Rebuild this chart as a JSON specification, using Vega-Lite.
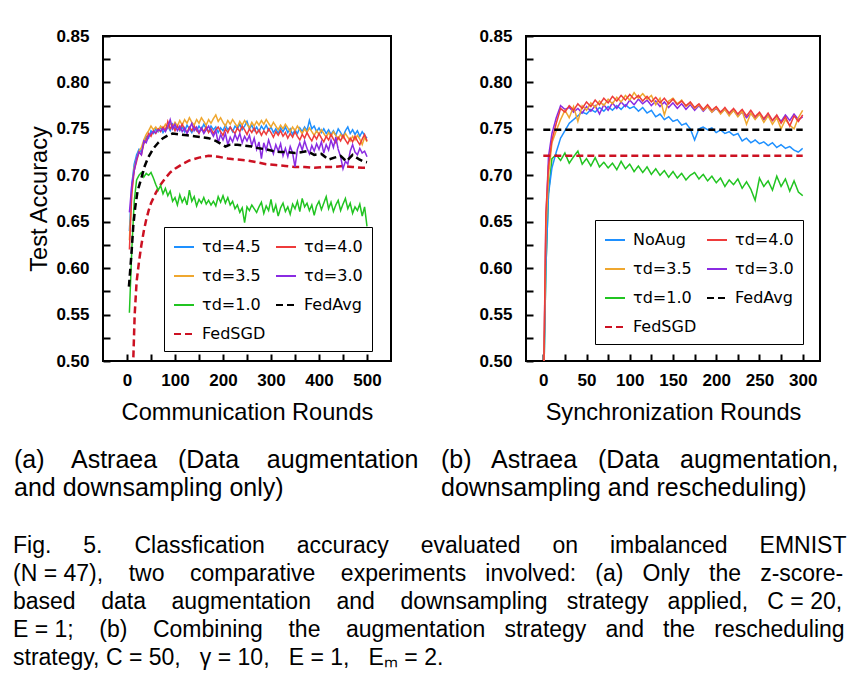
{
"$schema": "https://vega.github.io/schema/vega-lite/v6.json",
"background": "white",
"padding": {"left": 13, "top": 26, "right": 5, "bottom": 5},
"config": {
 "font": "Liberation Sans",
 "view": {"stroke": "black", "strokeWidth": 2},
 "axis": {"grid": false, "domain": false, "labelFont": "Liberation Sans", "labelFontWeight": "bold", "labelFontSize": 17, "labelColor": "black", "tickColor": "black", "tickWidth": 2, "titleFont": "Liberation Sans", "titleFontWeight": "normal", "titleFontSize": 23.6, "titleColor": "black"},
 "legend": {"title": null, "orient": "none", "columns": 2, "symbolType": "stroke", "symbolSize": 400, "symbolStrokeWidth": 2, "labelFont": "DejaVu Sans", "labelFontSize": 16, "labelColor": "black", "labelLimit": 300, "strokeColor": "black", "fillColor": "white", "padding": 9, "rowPadding": 10, "columnPadding": 6, "labelOffset": 7},
 "title": {"font": "Liberation Sans", "fontWeight": "normal", "color": "black", "lineHeight": 28}
},
"title": {"text": ["Fig.\u00a0\u00a0\u00a0\u00a0 5.\u00a0\u00a0\u00a0\u00a0 Classfication\u00a0\u00a0\u00a0\u00a0 accuracy\u00a0\u00a0\u00a0\u00a0 evaluated\u00a0\u00a0\u00a0\u00a0 on\u00a0\u00a0\u00a0\u00a0 imbalanced\u00a0\u00a0\u00a0\u00a0 EMNIST", "(N = 47),\u00a0\u00a0\u00a0 two\u00a0\u00a0\u00a0 comparative\u00a0\u00a0\u00a0 experiments\u00a0\u00a0 involved:\u00a0\u00a0 (a)\u00a0\u00a0 Only\u00a0\u00a0 the\u00a0\u00a0 z-score-", "based\u00a0\u00a0\u00a0 data\u00a0\u00a0\u00a0 augmentation\u00a0\u00a0\u00a0 and\u00a0\u00a0\u00a0 downsampling\u00a0\u00a0 strategy\u00a0\u00a0 applied,\u00a0\u00a0 C = 20,", "E = 1;\u00a0\u00a0\u00a0 (b)\u00a0\u00a0\u00a0 Combining\u00a0\u00a0\u00a0 the\u00a0\u00a0\u00a0 augmentation\u00a0\u00a0 strategy\u00a0\u00a0 and\u00a0\u00a0 the\u00a0\u00a0 rescheduling", "strategy, C = 50,\u00a0\u00a0 γ = 10,\u00a0\u00a0 E = 1,\u00a0\u00a0 Eₘ = 2."], "orient": "bottom", "anchor": "start", "offset": 33, "fontSize": 23},
"datasets": {
"a": [
{"s":"FedSGD","r":5,"v":0.35},{"s":"FedSGD","r":10,"v":0.455},{"s":"FedSGD","r":13,"v":0.50},{"s":"FedSGD","r":16,"v":0.55},{"s":"FedSGD","r":20,"v":0.585},{"s":"FedSGD","r":25,"v":0.607},{"s":"FedSGD","r":30,"v":0.625},{"s":"FedSGD","r":35,"v":0.640},{"s":"FedSGD","r":40,"v":0.652},{"s":"FedSGD","r":45,"v":0.662},{"s":"FedSGD","r":50,"v":0.670},{"s":"FedSGD","r":60,"v":0.681},{"s":"FedSGD","r":70,"v":0.690},{"s":"FedSGD","r":80,"v":0.697},{"s":"FedSGD","r":90,"v":0.703},{"s":"FedSGD","r":100,"v":0.707},{"s":"FedSGD","r":115,"v":0.712},{"s":"FedSGD","r":130,"v":0.716},{"s":"FedSGD","r":150,"v":0.719},{"s":"FedSGD","r":170,"v":0.721},{"s":"FedSGD","r":190,"v":0.720},{"s":"FedSGD","r":210,"v":0.718},{"s":"FedSGD","r":230,"v":0.717},{"s":"FedSGD","r":250,"v":0.716},{"s":"FedSGD","r":270,"v":0.714},{"s":"FedSGD","r":290,"v":0.712},{"s":"FedSGD","r":310,"v":0.711},{"s":"FedSGD","r":330,"v":0.710},{"s":"FedSGD","r":350,"v":0.709},{"s":"FedSGD","r":370,"v":0.709},{"s":"FedSGD","r":390,"v":0.708},{"s":"FedSGD","r":410,"v":0.709},{"s":"FedSGD","r":430,"v":0.709},{"s":"FedSGD","r":450,"v":0.710},{"s":"FedSGD","r":470,"v":0.709},{"s":"FedSGD","r":490,"v":0.708},{"s":"FedSGD","r":500,"v":0.708},
{"s":"τd=1.0","r":5,"v":0.552},{"s":"τd=1.0","r":10,"v":0.620},{"s":"τd=1.0","r":15,"v":0.672},{"s":"τd=1.0","r":20,"v":0.695},{"s":"τd=1.0","r":25,"v":0.700},{"s":"τd=1.0","r":30,"v":0.703},{"s":"τd=1.0","r":35,"v":0.698},{"s":"τd=1.0","r":40,"v":0.702},{"s":"τd=1.0","r":45,"v":0.700},{"s":"τd=1.0","r":50,"v":0.703},
{"s":"τd=1.0","r":55,"v":0.697},{"s":"τd=1.0","r":60,"v":0.690},{"s":"τd=1.0","r":65,"v":0.684},{"s":"τd=1.0","r":70,"v":0.689},{"s":"τd=1.0","r":75,"v":0.680},{"s":"τd=1.0","r":80,"v":0.686},{"s":"τd=1.0","r":85,"v":0.678},{"s":"τd=1.0","r":90,"v":0.683},{"s":"τd=1.0","r":95,"v":0.672},{"s":"τd=1.0","r":100,"v":0.676},
{"s":"τd=1.0","r":105,"v":0.668},{"s":"τd=1.0","r":110,"v":0.679},{"s":"τd=1.0","r":115,"v":0.671},{"s":"τd=1.0","r":120,"v":0.676},{"s":"τd=1.0","r":125,"v":0.668},{"s":"τd=1.0","r":130,"v":0.684},{"s":"τd=1.0","r":135,"v":0.672},{"s":"τd=1.0","r":140,"v":0.677},{"s":"τd=1.0","r":145,"v":0.667},{"s":"τd=1.0","r":150,"v":0.674},
{"s":"τd=1.0","r":155,"v":0.670},{"s":"τd=1.0","r":160,"v":0.676},{"s":"τd=1.0","r":165,"v":0.669},{"s":"τd=1.0","r":170,"v":0.673},{"s":"τd=1.0","r":175,"v":0.668},{"s":"τd=1.0","r":180,"v":0.672},{"s":"τd=1.0","r":185,"v":0.667},{"s":"τd=1.0","r":190,"v":0.677},{"s":"τd=1.0","r":195,"v":0.671},{"s":"τd=1.0","r":200,"v":0.678},
{"s":"τd=1.0","r":205,"v":0.670},{"s":"τd=1.0","r":210,"v":0.676},{"s":"τd=1.0","r":215,"v":0.668},{"s":"τd=1.0","r":220,"v":0.672},{"s":"τd=1.0","r":225,"v":0.664},{"s":"τd=1.0","r":230,"v":0.668},{"s":"τd=1.0","r":235,"v":0.660},{"s":"τd=1.0","r":240,"v":0.665},{"s":"τd=1.0","r":245,"v":0.649},{"s":"τd=1.0","r":250,"v":0.666},
{"s":"τd=1.0","r":255,"v":0.662},{"s":"τd=1.0","r":260,"v":0.668},{"s":"τd=1.0","r":265,"v":0.664},{"s":"τd=1.0","r":270,"v":0.660},{"s":"τd=1.0","r":275,"v":0.666},{"s":"τd=1.0","r":280,"v":0.671},{"s":"τd=1.0","r":285,"v":0.659},{"s":"τd=1.0","r":290,"v":0.667},{"s":"τd=1.0","r":295,"v":0.662},{"s":"τd=1.0","r":300,"v":0.674},
{"s":"τd=1.0","r":305,"v":0.660},{"s":"τd=1.0","r":310,"v":0.668},{"s":"τd=1.0","r":315,"v":0.656},{"s":"τd=1.0","r":320,"v":0.665},{"s":"τd=1.0","r":325,"v":0.670},{"s":"τd=1.0","r":330,"v":0.661},{"s":"τd=1.0","r":335,"v":0.666},{"s":"τd=1.0","r":340,"v":0.658},{"s":"τd=1.0","r":345,"v":0.669},{"s":"τd=1.0","r":350,"v":0.664},
{"s":"τd=1.0","r":355,"v":0.672},{"s":"τd=1.0","r":360,"v":0.661},{"s":"τd=1.0","r":365,"v":0.675},{"s":"τd=1.0","r":370,"v":0.666},{"s":"τd=1.0","r":375,"v":0.670},{"s":"τd=1.0","r":380,"v":0.662},{"s":"τd=1.0","r":385,"v":0.668},{"s":"τd=1.0","r":390,"v":0.657},{"s":"τd=1.0","r":395,"v":0.667},{"s":"τd=1.0","r":400,"v":0.672},
{"s":"τd=1.0","r":405,"v":0.663},{"s":"τd=1.0","r":410,"v":0.670},{"s":"τd=1.0","r":415,"v":0.677},{"s":"τd=1.0","r":420,"v":0.664},{"s":"τd=1.0","r":425,"v":0.671},{"s":"τd=1.0","r":430,"v":0.661},{"s":"τd=1.0","r":435,"v":0.668},{"s":"τd=1.0","r":440,"v":0.673},{"s":"τd=1.0","r":445,"v":0.662},{"s":"τd=1.0","r":450,"v":0.669},
{"s":"τd=1.0","r":455,"v":0.675},{"s":"τd=1.0","r":460,"v":0.664},{"s":"τd=1.0","r":465,"v":0.670},{"s":"τd=1.0","r":470,"v":0.659},{"s":"τd=1.0","r":475,"v":0.666},{"s":"τd=1.0","r":480,"v":0.662},{"s":"τd=1.0","r":485,"v":0.669},{"s":"τd=1.0","r":490,"v":0.656},{"s":"τd=1.0","r":495,"v":0.666},{"s":"τd=1.0","r":500,"v":0.645},
{"s":"τd=4.5","r":5,"v":0.640},{"s":"τd=4.5","r":10,"v":0.690},{"s":"τd=4.5","r":15,"v":0.712},{"s":"τd=4.5","r":20,"v":0.722},{"s":"τd=4.5","r":25,"v":0.728},{"s":"τd=4.5","r":30,"v":0.725},{"s":"τd=4.5","r":35,"v":0.735},{"s":"τd=4.5","r":40,"v":0.742},{"s":"τd=4.5","r":45,"v":0.740},{"s":"τd=4.5","r":50,"v":0.748},
{"s":"τd=4.5","r":55,"v":0.745},{"s":"τd=4.5","r":60,"v":0.750},{"s":"τd=4.5","r":65,"v":0.747},{"s":"τd=4.5","r":70,"v":0.752},{"s":"τd=4.5","r":75,"v":0.746},{"s":"τd=4.5","r":80,"v":0.750},{"s":"τd=4.5","r":85,"v":0.753},{"s":"τd=4.5","r":90,"v":0.748},{"s":"τd=4.5","r":95,"v":0.755},{"s":"τd=4.5","r":100,"v":0.750},
{"s":"τd=4.5","r":105,"v":0.753},{"s":"τd=4.5","r":110,"v":0.748},{"s":"τd=4.5","r":115,"v":0.752},{"s":"τd=4.5","r":120,"v":0.747},{"s":"τd=4.5","r":125,"v":0.754},{"s":"τd=4.5","r":130,"v":0.750},{"s":"τd=4.5","r":135,"v":0.746},{"s":"τd=4.5","r":140,"v":0.752},{"s":"τd=4.5","r":145,"v":0.748},{"s":"τd=4.5","r":150,"v":0.753},
{"s":"τd=4.5","r":155,"v":0.749},{"s":"τd=4.5","r":160,"v":0.755},{"s":"τd=4.5","r":165,"v":0.750},{"s":"τd=4.5","r":170,"v":0.747},{"s":"τd=4.5","r":175,"v":0.753},{"s":"τd=4.5","r":180,"v":0.749},{"s":"τd=4.5","r":185,"v":0.752},{"s":"τd=4.5","r":190,"v":0.746},{"s":"τd=4.5","r":195,"v":0.751},{"s":"τd=4.5","r":200,"v":0.748},
{"s":"τd=4.5","r":205,"v":0.754},{"s":"τd=4.5","r":210,"v":0.749},{"s":"τd=4.5","r":215,"v":0.752},{"s":"τd=4.5","r":220,"v":0.747},{"s":"τd=4.5","r":225,"v":0.753},{"s":"τd=4.5","r":230,"v":0.750},{"s":"τd=4.5","r":235,"v":0.755},{"s":"τd=4.5","r":240,"v":0.749},{"s":"τd=4.5","r":245,"v":0.753},{"s":"τd=4.5","r":250,"v":0.758},
{"s":"τd=4.5","r":255,"v":0.750},{"s":"τd=4.5","r":260,"v":0.754},{"s":"τd=4.5","r":265,"v":0.748},{"s":"τd=4.5","r":270,"v":0.752},{"s":"τd=4.5","r":275,"v":0.747},{"s":"τd=4.5","r":280,"v":0.753},{"s":"τd=4.5","r":285,"v":0.749},{"s":"τd=4.5","r":290,"v":0.754},{"s":"τd=4.5","r":295,"v":0.748},{"s":"τd=4.5","r":300,"v":0.752},
{"s":"τd=4.5","r":305,"v":0.746},{"s":"τd=4.5","r":310,"v":0.750},{"s":"τd=4.5","r":315,"v":0.745},{"s":"τd=4.5","r":320,"v":0.751},{"s":"τd=4.5","r":325,"v":0.747},{"s":"τd=4.5","r":330,"v":0.752},{"s":"τd=4.5","r":335,"v":0.746},{"s":"τd=4.5","r":340,"v":0.750},{"s":"τd=4.5","r":345,"v":0.744},{"s":"τd=4.5","r":350,"v":0.749},
{"s":"τd=4.5","r":355,"v":0.745},{"s":"τd=4.5","r":360,"v":0.751},{"s":"τd=4.5","r":365,"v":0.747},{"s":"τd=4.5","r":370,"v":0.752},{"s":"τd=4.5","r":375,"v":0.748},{"s":"τd=4.5","r":380,"v":0.759},{"s":"τd=4.5","r":385,"v":0.750},{"s":"τd=4.5","r":390,"v":0.753},{"s":"τd=4.5","r":395,"v":0.747},{"s":"τd=4.5","r":400,"v":0.751},
{"s":"τd=4.5","r":405,"v":0.746},{"s":"τd=4.5","r":410,"v":0.750},{"s":"τd=4.5","r":415,"v":0.745},{"s":"τd=4.5","r":420,"v":0.749},{"s":"τd=4.5","r":425,"v":0.744},{"s":"τd=4.5","r":430,"v":0.748},{"s":"τd=4.5","r":435,"v":0.743},{"s":"τd=4.5","r":440,"v":0.750},{"s":"τd=4.5","r":445,"v":0.746},{"s":"τd=4.5","r":450,"v":0.741},
{"s":"τd=4.5","r":455,"v":0.748},{"s":"τd=4.5","r":460,"v":0.752},{"s":"τd=4.5","r":465,"v":0.745},{"s":"τd=4.5","r":470,"v":0.749},{"s":"τd=4.5","r":475,"v":0.744},{"s":"τd=4.5","r":480,"v":0.748},{"s":"τd=4.5","r":485,"v":0.742},{"s":"τd=4.5","r":490,"v":0.747},{"s":"τd=4.5","r":495,"v":0.743},{"s":"τd=4.5","r":500,"v":0.740},
{"s":"τd=3.5","r":5,"v":0.630},{"s":"τd=3.5","r":10,"v":0.685},{"s":"τd=3.5","r":15,"v":0.708},{"s":"τd=3.5","r":20,"v":0.718},{"s":"τd=3.5","r":25,"v":0.726},{"s":"τd=3.5","r":30,"v":0.730},{"s":"τd=3.5","r":35,"v":0.738},{"s":"τd=3.5","r":40,"v":0.744},{"s":"τd=3.5","r":45,"v":0.748},{"s":"τd=3.5","r":50,"v":0.753},
{"s":"τd=3.5","r":55,"v":0.749},{"s":"τd=3.5","r":60,"v":0.752},{"s":"τd=3.5","r":65,"v":0.748},{"s":"τd=3.5","r":70,"v":0.753},{"s":"τd=3.5","r":75,"v":0.750},{"s":"τd=3.5","r":80,"v":0.755},{"s":"τd=3.5","r":85,"v":0.751},{"s":"τd=3.5","r":90,"v":0.756},{"s":"τd=3.5","r":95,"v":0.752},{"s":"τd=3.5","r":100,"v":0.757},
{"s":"τd=3.5","r":105,"v":0.753},{"s":"τd=3.5","r":110,"v":0.759},{"s":"τd=3.5","r":115,"v":0.754},{"s":"τd=3.5","r":120,"v":0.760},{"s":"τd=3.5","r":125,"v":0.756},{"s":"τd=3.5","r":130,"v":0.762},{"s":"τd=3.5","r":135,"v":0.757},{"s":"τd=3.5","r":140,"v":0.754},{"s":"τd=3.5","r":145,"v":0.760},{"s":"τd=3.5","r":150,"v":0.756},
{"s":"τd=3.5","r":155,"v":0.762},{"s":"τd=3.5","r":160,"v":0.758},{"s":"τd=3.5","r":165,"v":0.754},{"s":"τd=3.5","r":170,"v":0.760},{"s":"τd=3.5","r":175,"v":0.756},{"s":"τd=3.5","r":180,"v":0.761},{"s":"τd=3.5","r":185,"v":0.765},{"s":"τd=3.5","r":190,"v":0.758},{"s":"τd=3.5","r":195,"v":0.762},{"s":"τd=3.5","r":200,"v":0.757},
{"s":"τd=3.5","r":205,"v":0.753},{"s":"τd=3.5","r":210,"v":0.759},{"s":"τd=3.5","r":215,"v":0.755},{"s":"τd=3.5","r":220,"v":0.760},{"s":"τd=3.5","r":225,"v":0.756},{"s":"τd=3.5","r":230,"v":0.752},{"s":"τd=3.5","r":235,"v":0.758},{"s":"τd=3.5","r":240,"v":0.754},{"s":"τd=3.5","r":245,"v":0.759},{"s":"τd=3.5","r":250,"v":0.755},
{"s":"τd=3.5","r":255,"v":0.751},{"s":"τd=3.5","r":260,"v":0.757},{"s":"τd=3.5","r":265,"v":0.753},{"s":"τd=3.5","r":270,"v":0.758},{"s":"τd=3.5","r":275,"v":0.754},{"s":"τd=3.5","r":280,"v":0.759},{"s":"τd=3.5","r":285,"v":0.755},{"s":"τd=3.5","r":290,"v":0.760},{"s":"τd=3.5","r":295,"v":0.756},{"s":"τd=3.5","r":300,"v":0.752},
{"s":"τd=3.5","r":305,"v":0.757},{"s":"τd=3.5","r":310,"v":0.753},{"s":"τd=3.5","r":315,"v":0.749},{"s":"τd=3.5","r":320,"v":0.754},{"s":"τd=3.5","r":325,"v":0.750},{"s":"τd=3.5","r":330,"v":0.755},{"s":"τd=3.5","r":335,"v":0.751},{"s":"τd=3.5","r":340,"v":0.747},{"s":"τd=3.5","r":345,"v":0.752},{"s":"τd=3.5","r":350,"v":0.748},
{"s":"τd=3.5","r":355,"v":0.753},{"s":"τd=3.5","r":360,"v":0.749},{"s":"τd=3.5","r":365,"v":0.745},{"s":"τd=3.5","r":370,"v":0.750},{"s":"τd=3.5","r":375,"v":0.746},{"s":"τd=3.5","r":380,"v":0.751},{"s":"τd=3.5","r":385,"v":0.747},{"s":"τd=3.5","r":390,"v":0.743},{"s":"τd=3.5","r":395,"v":0.748},{"s":"τd=3.5","r":400,"v":0.744},
{"s":"τd=3.5","r":405,"v":0.749},{"s":"τd=3.5","r":410,"v":0.745},{"s":"τd=3.5","r":415,"v":0.741},{"s":"τd=3.5","r":420,"v":0.746},{"s":"τd=3.5","r":425,"v":0.742},{"s":"τd=3.5","r":430,"v":0.747},{"s":"τd=3.5","r":435,"v":0.743},{"s":"τd=3.5","r":440,"v":0.739},{"s":"τd=3.5","r":445,"v":0.744},{"s":"τd=3.5","r":450,"v":0.740},
{"s":"τd=3.5","r":455,"v":0.745},{"s":"τd=3.5","r":460,"v":0.741},{"s":"τd=3.5","r":465,"v":0.737},{"s":"τd=3.5","r":470,"v":0.742},{"s":"τd=3.5","r":475,"v":0.738},{"s":"τd=3.5","r":480,"v":0.743},{"s":"τd=3.5","r":485,"v":0.739},{"s":"τd=3.5","r":490,"v":0.733},{"s":"τd=3.5","r":495,"v":0.741},{"s":"τd=3.5","r":500,"v":0.736},
{"s":"τd=4.0","r":5,"v":0.620},{"s":"τd=4.0","r":10,"v":0.680},{"s":"τd=4.0","r":15,"v":0.705},{"s":"τd=4.0","r":20,"v":0.715},{"s":"τd=4.0","r":25,"v":0.725},{"s":"τd=4.0","r":30,"v":0.722},{"s":"τd=4.0","r":35,"v":0.734},{"s":"τd=4.0","r":40,"v":0.738},{"s":"τd=4.0","r":45,"v":0.745},{"s":"τd=4.0","r":50,"v":0.742},
{"s":"τd=4.0","r":55,"v":0.748},{"s":"τd=4.0","r":60,"v":0.745},{"s":"τd=4.0","r":65,"v":0.750},{"s":"τd=4.0","r":70,"v":0.747},{"s":"τd=4.0","r":75,"v":0.752},{"s":"τd=4.0","r":80,"v":0.748},{"s":"τd=4.0","r":85,"v":0.758},{"s":"τd=4.0","r":90,"v":0.750},{"s":"τd=4.0","r":95,"v":0.754},{"s":"τd=4.0","r":100,"v":0.748},
{"s":"τd=4.0","r":105,"v":0.753},{"s":"τd=4.0","r":110,"v":0.749},{"s":"τd=4.0","r":115,"v":0.755},{"s":"τd=4.0","r":120,"v":0.750},{"s":"τd=4.0","r":125,"v":0.746},{"s":"τd=4.0","r":130,"v":0.752},{"s":"τd=4.0","r":135,"v":0.748},{"s":"τd=4.0","r":140,"v":0.753},{"s":"τd=4.0","r":145,"v":0.749},{"s":"τd=4.0","r":150,"v":0.745},
{"s":"τd=4.0","r":155,"v":0.751},{"s":"τd=4.0","r":160,"v":0.747},{"s":"τd=4.0","r":165,"v":0.752},{"s":"τd=4.0","r":170,"v":0.746},{"s":"τd=4.0","r":175,"v":0.750},{"s":"τd=4.0","r":180,"v":0.745},{"s":"τd=4.0","r":185,"v":0.749},{"s":"τd=4.0","r":190,"v":0.752},{"s":"τd=4.0","r":195,"v":0.747},{"s":"τd=4.0","r":200,"v":0.743},
{"s":"τd=4.0","r":205,"v":0.750},{"s":"τd=4.0","r":210,"v":0.746},{"s":"τd=4.0","r":215,"v":0.752},{"s":"τd=4.0","r":220,"v":0.748},{"s":"τd=4.0","r":225,"v":0.745},{"s":"τd=4.0","r":230,"v":0.751},{"s":"τd=4.0","r":235,"v":0.747},{"s":"τd=4.0","r":240,"v":0.753},{"s":"τd=4.0","r":245,"v":0.749},{"s":"τd=4.0","r":250,"v":0.744},
{"s":"τd=4.0","r":255,"v":0.750},{"s":"τd=4.0","r":260,"v":0.746},{"s":"τd=4.0","r":265,"v":0.751},{"s":"τd=4.0","r":270,"v":0.745},{"s":"τd=4.0","r":275,"v":0.749},{"s":"τd=4.0","r":280,"v":0.743},{"s":"τd=4.0","r":285,"v":0.748},{"s":"τd=4.0","r":290,"v":0.744},{"s":"τd=4.0","r":295,"v":0.750},{"s":"τd=4.0","r":300,"v":0.746},
{"s":"τd=4.0","r":305,"v":0.741},{"s":"τd=4.0","r":310,"v":0.747},{"s":"τd=4.0","r":315,"v":0.743},{"s":"τd=4.0","r":320,"v":0.748},{"s":"τd=4.0","r":325,"v":0.742},{"s":"τd=4.0","r":330,"v":0.746},{"s":"τd=4.0","r":335,"v":0.740},{"s":"τd=4.0","r":340,"v":0.745},{"s":"τd=4.0","r":345,"v":0.741},{"s":"τd=4.0","r":350,"v":0.747},
{"s":"τd=4.0","r":355,"v":0.742},{"s":"τd=4.0","r":360,"v":0.738},{"s":"τd=4.0","r":365,"v":0.744},{"s":"τd=4.0","r":370,"v":0.740},{"s":"τd=4.0","r":375,"v":0.746},{"s":"τd=4.0","r":380,"v":0.741},{"s":"τd=4.0","r":385,"v":0.737},{"s":"τd=4.0","r":390,"v":0.743},{"s":"τd=4.0","r":395,"v":0.739},{"s":"τd=4.0","r":400,"v":0.745},
{"s":"τd=4.0","r":405,"v":0.740},{"s":"τd=4.0","r":410,"v":0.736},{"s":"τd=4.0","r":415,"v":0.742},{"s":"τd=4.0","r":420,"v":0.738},{"s":"τd=4.0","r":425,"v":0.744},{"s":"τd=4.0","r":430,"v":0.739},{"s":"τd=4.0","r":435,"v":0.735},{"s":"τd=4.0","r":440,"v":0.741},{"s":"τd=4.0","r":445,"v":0.737},{"s":"τd=4.0","r":450,"v":0.743},
{"s":"τd=4.0","r":455,"v":0.738},{"s":"τd=4.0","r":460,"v":0.734},{"s":"τd=4.0","r":465,"v":0.740},{"s":"τd=4.0","r":470,"v":0.736},{"s":"τd=4.0","r":475,"v":0.742},{"s":"τd=4.0","r":480,"v":0.737},{"s":"τd=4.0","r":485,"v":0.733},{"s":"τd=4.0","r":490,"v":0.739},{"s":"τd=4.0","r":495,"v":0.744},{"s":"τd=4.0","r":500,"v":0.737},
{"s":"τd=3.0","r":5,"v":0.660},{"s":"τd=3.0","r":10,"v":0.690},{"s":"τd=3.0","r":15,"v":0.705},{"s":"τd=3.0","r":20,"v":0.718},{"s":"τd=3.0","r":25,"v":0.725},{"s":"τd=3.0","r":30,"v":0.722},{"s":"τd=3.0","r":35,"v":0.737},{"s":"τd=3.0","r":40,"v":0.735},{"s":"τd=3.0","r":45,"v":0.742},{"s":"τd=3.0","r":50,"v":0.745},
{"s":"τd=3.0","r":55,"v":0.747},{"s":"τd=3.0","r":60,"v":0.746},{"s":"τd=3.0","r":65,"v":0.749},{"s":"τd=3.0","r":70,"v":0.748},{"s":"τd=3.0","r":75,"v":0.750},{"s":"τd=3.0","r":80,"v":0.747},{"s":"τd=3.0","r":85,"v":0.752},{"s":"τd=3.0","r":90,"v":0.760},{"s":"τd=3.0","r":95,"v":0.750},{"s":"τd=3.0","r":100,"v":0.755},
{"s":"τd=3.0","r":105,"v":0.748},{"s":"τd=3.0","r":110,"v":0.753},{"s":"τd=3.0","r":115,"v":0.747},{"s":"τd=3.0","r":120,"v":0.751},{"s":"τd=3.0","r":125,"v":0.745},{"s":"τd=3.0","r":130,"v":0.750},{"s":"τd=3.0","r":135,"v":0.756},{"s":"τd=3.0","r":140,"v":0.748},{"s":"τd=3.0","r":145,"v":0.752},{"s":"τd=3.0","r":150,"v":0.746},
{"s":"τd=3.0","r":155,"v":0.751},{"s":"τd=3.0","r":160,"v":0.745},{"s":"τd=3.0","r":165,"v":0.749},{"s":"τd=3.0","r":170,"v":0.753},{"s":"τd=3.0","r":175,"v":0.747},{"s":"τd=3.0","r":180,"v":0.742},{"s":"τd=3.0","r":185,"v":0.748},{"s":"τd=3.0","r":190,"v":0.735},{"s":"τd=3.0","r":195,"v":0.744},{"s":"τd=3.0","r":200,"v":0.738},
{"s":"τd=3.0","r":205,"v":0.745},{"s":"τd=3.0","r":210,"v":0.733},{"s":"τd=3.0","r":215,"v":0.741},{"s":"τd=3.0","r":220,"v":0.736},{"s":"τd=3.0","r":225,"v":0.744},{"s":"τd=3.0","r":230,"v":0.738},{"s":"τd=3.0","r":235,"v":0.745},{"s":"τd=3.0","r":240,"v":0.735},{"s":"τd=3.0","r":245,"v":0.742},{"s":"τd=3.0","r":250,"v":0.737},
{"s":"τd=3.0","r":255,"v":0.743},{"s":"τd=3.0","r":260,"v":0.732},{"s":"τd=3.0","r":265,"v":0.740},{"s":"τd=3.0","r":270,"v":0.728},{"s":"τd=3.0","r":275,"v":0.736},{"s":"τd=3.0","r":280,"v":0.718},{"s":"τd=3.0","r":285,"v":0.735},{"s":"τd=3.0","r":290,"v":0.727},{"s":"τd=3.0","r":295,"v":0.738},{"s":"τd=3.0","r":300,"v":0.730},
{"s":"τd=3.0","r":305,"v":0.723},{"s":"τd=3.0","r":310,"v":0.733},{"s":"τd=3.0","r":315,"v":0.726},{"s":"τd=3.0","r":320,"v":0.734},{"s":"τd=3.0","r":325,"v":0.721},{"s":"τd=3.0","r":330,"v":0.729},{"s":"τd=3.0","r":335,"v":0.720},{"s":"τd=3.0","r":340,"v":0.731},{"s":"τd=3.0","r":345,"v":0.724},{"s":"τd=3.0","r":350,"v":0.709},
{"s":"τd=3.0","r":355,"v":0.728},{"s":"τd=3.0","r":360,"v":0.735},{"s":"τd=3.0","r":365,"v":0.727},{"s":"τd=3.0","r":370,"v":0.737},{"s":"τd=3.0","r":375,"v":0.729},{"s":"τd=3.0","r":380,"v":0.723},{"s":"τd=3.0","r":385,"v":0.732},{"s":"τd=3.0","r":390,"v":0.726},{"s":"τd=3.0","r":395,"v":0.734},{"s":"τd=3.0","r":400,"v":0.728},
{"s":"τd=3.0","r":405,"v":0.736},{"s":"τd=3.0","r":410,"v":0.724},{"s":"τd=3.0","r":415,"v":0.733},{"s":"τd=3.0","r":420,"v":0.727},{"s":"τd=3.0","r":425,"v":0.738},{"s":"τd=3.0","r":430,"v":0.730},{"s":"τd=3.0","r":435,"v":0.741},{"s":"τd=3.0","r":440,"v":0.728},{"s":"τd=3.0","r":445,"v":0.720},{"s":"τd=3.0","r":450,"v":0.707},
{"s":"τd=3.0","r":455,"v":0.715},{"s":"τd=3.0","r":460,"v":0.712},{"s":"τd=3.0","r":465,"v":0.726},{"s":"τd=3.0","r":470,"v":0.733},{"s":"τd=3.0","r":475,"v":0.725},{"s":"τd=3.0","r":480,"v":0.722},{"s":"τd=3.0","r":485,"v":0.729},{"s":"τd=3.0","r":490,"v":0.724},{"s":"τd=3.0","r":495,"v":0.726},{"s":"τd=3.0","r":500,"v":0.720},
{"s":"FedAvg","r":4,"v":0.580},{"s":"FedAvg","r":7,"v":0.600},{"s":"FedAvg","r":10,"v":0.621},{"s":"FedAvg","r":13,"v":0.645},{"s":"FedAvg","r":17,"v":0.665},{"s":"FedAvg","r":22,"v":0.683},{"s":"FedAvg","r":30,"v":0.697},{"s":"FedAvg","r":37,"v":0.710},{"s":"FedAvg","r":44,"v":0.719},{"s":"FedAvg","r":55,"v":0.729},{"s":"FedAvg","r":65,"v":0.735},{"s":"FedAvg","r":75,"v":0.740},{"s":"FedAvg","r":85,"v":0.743},{"s":"FedAvg","r":95,"v":0.745},{"s":"FedAvg","r":110,"v":0.744},{"s":"FedAvg","r":125,"v":0.743},{"s":"FedAvg","r":140,"v":0.742},{"s":"FedAvg","r":155,"v":0.741},{"s":"FedAvg","r":170,"v":0.740},{"s":"FedAvg","r":185,"v":0.737},{"s":"FedAvg","r":195,"v":0.734},{"s":"FedAvg","r":205,"v":0.731},{"s":"FedAvg","r":215,"v":0.733},{"s":"FedAvg","r":230,"v":0.733},{"s":"FedAvg","r":245,"v":0.732},{"s":"FedAvg","r":260,"v":0.731},{"s":"FedAvg","r":275,"v":0.729},{"s":"FedAvg","r":290,"v":0.728},{"s":"FedAvg","r":305,"v":0.726},{"s":"FedAvg","r":320,"v":0.725},{"s":"FedAvg","r":335,"v":0.725},{"s":"FedAvg","r":350,"v":0.724},{"s":"FedAvg","r":365,"v":0.725},{"s":"FedAvg","r":375,"v":0.726},{"s":"FedAvg","r":390,"v":0.722},{"s":"FedAvg","r":405,"v":0.723},{"s":"FedAvg","r":420,"v":0.717},{"s":"FedAvg","r":432,"v":0.719},{"s":"FedAvg","r":445,"v":0.721},{"s":"FedAvg","r":457,"v":0.715},{"s":"FedAvg","r":470,"v":0.722},{"s":"FedAvg","r":484,"v":0.717},{"s":"FedAvg","r":492,"v":0.715},{"s":"FedAvg","r":500,"v":0.714}
],
"b": [
{"s":"τd=1.0","r":0,"v":0.45},{"s":"τd=1.0","r":3,"v":0.60},{"s":"τd=1.0","r":6,"v":0.68},{"s":"τd=1.0","r":10,"v":0.718},{"s":"τd=1.0","r":15,"v":0.722},{"s":"τd=1.0","r":20,"v":0.716},{"s":"τd=1.0","r":25,"v":0.724},{"s":"τd=1.0","r":30,"v":0.713},{"s":"τd=1.0","r":35,"v":0.720},{"s":"τd=1.0","r":40,"v":0.726},{"s":"τd=1.0","r":45,"v":0.712},{"s":"τd=1.0","r":50,"v":0.718},{"s":"τd=1.0","r":55,"v":0.710},{"s":"τd=1.0","r":60,"v":0.719},{"s":"τd=1.0","r":65,"v":0.709},{"s":"τd=1.0","r":70,"v":0.714},{"s":"τd=1.0","r":75,"v":0.708},{"s":"τd=1.0","r":80,"v":0.713},{"s":"τd=1.0","r":85,"v":0.706},{"s":"τd=1.0","r":90,"v":0.715},{"s":"τd=1.0","r":95,"v":0.707},{"s":"τd=1.0","r":100,"v":0.712},{"s":"τd=1.0","r":105,"v":0.704},{"s":"τd=1.0","r":110,"v":0.710},{"s":"τd=1.0","r":115,"v":0.703},{"s":"τd=1.0","r":120,"v":0.709},{"s":"τd=1.0","r":125,"v":0.701},{"s":"τd=1.0","r":130,"v":0.707},{"s":"τd=1.0","r":135,"v":0.700},{"s":"τd=1.0","r":140,"v":0.705},{"s":"τd=1.0","r":145,"v":0.698},{"s":"τd=1.0","r":150,"v":0.704},{"s":"τd=1.0","r":155,"v":0.697},{"s":"τd=1.0","r":160,"v":0.702},{"s":"τd=1.0","r":165,"v":0.695},{"s":"τd=1.0","r":170,"v":0.700},{"s":"τd=1.0","r":175,"v":0.703},{"s":"τd=1.0","r":180,"v":0.696},{"s":"τd=1.0","r":185,"v":0.701},{"s":"τd=1.0","r":190,"v":0.694},{"s":"τd=1.0","r":195,"v":0.699},{"s":"τd=1.0","r":200,"v":0.692},{"s":"τd=1.0","r":205,"v":0.697},{"s":"τd=1.0","r":210,"v":0.688},{"s":"τd=1.0","r":215,"v":0.695},{"s":"τd=1.0","r":220,"v":0.690},{"s":"τd=1.0","r":225,"v":0.696},{"s":"τd=1.0","r":230,"v":0.686},{"s":"τd=1.0","r":235,"v":0.693},{"s":"τd=1.0","r":240,"v":0.685},{"s":"τd=1.0","r":245,"v":0.673},{"s":"τd=1.0","r":250,"v":0.697},{"s":"τd=1.0","r":255,"v":0.688},{"s":"τd=1.0","r":260,"v":0.694},{"s":"τd=1.0","r":265,"v":0.684},{"s":"τd=1.0","r":270,"v":0.699},{"s":"τd=1.0","r":275,"v":0.688},{"s":"τd=1.0","r":280,"v":0.696},{"s":"τd=1.0","r":285,"v":0.683},{"s":"τd=1.0","r":290,"v":0.694},{"s":"τd=1.0","r":295,"v":0.682},{"s":"τd=1.0","r":300,"v":0.678},
{"s":"NoAug","r":0,"v":0.45},{"s":"NoAug","r":3,"v":0.60},{"s":"NoAug","r":6,"v":0.68},{"s":"NoAug","r":10,"v":0.708},{"s":"NoAug","r":15,"v":0.725},{"s":"NoAug","r":20,"v":0.740},{"s":"NoAug","r":25,"v":0.748},{"s":"NoAug","r":30,"v":0.756},{"s":"NoAug","r":35,"v":0.760},{"s":"NoAug","r":40,"v":0.764},{"s":"NoAug","r":45,"v":0.768},{"s":"NoAug","r":50,"v":0.766},{"s":"NoAug","r":55,"v":0.771},{"s":"NoAug","r":60,"v":0.768},{"s":"NoAug","r":65,"v":0.773},{"s":"NoAug","r":70,"v":0.769},{"s":"NoAug","r":75,"v":0.774},{"s":"NoAug","r":80,"v":0.770},{"s":"NoAug","r":85,"v":0.775},{"s":"NoAug","r":90,"v":0.771},{"s":"NoAug","r":95,"v":0.776},{"s":"NoAug","r":100,"v":0.772},{"s":"NoAug","r":105,"v":0.774},{"s":"NoAug","r":110,"v":0.769},{"s":"NoAug","r":115,"v":0.773},{"s":"NoAug","r":120,"v":0.767},{"s":"NoAug","r":125,"v":0.770},{"s":"NoAug","r":130,"v":0.763},{"s":"NoAug","r":135,"v":0.766},{"s":"NoAug","r":140,"v":0.760},{"s":"NoAug","r":145,"v":0.763},{"s":"NoAug","r":150,"v":0.758},{"s":"NoAug","r":155,"v":0.760},{"s":"NoAug","r":160,"v":0.754},{"s":"NoAug","r":165,"v":0.756},{"s":"NoAug","r":170,"v":0.750},{"s":"NoAug","r":175,"v":0.738},{"s":"NoAug","r":180,"v":0.750},{"s":"NoAug","r":185,"v":0.752},{"s":"NoAug","r":190,"v":0.749},{"s":"NoAug","r":195,"v":0.751},{"s":"NoAug","r":200,"v":0.746},{"s":"NoAug","r":205,"v":0.749},{"s":"NoAug","r":210,"v":0.745},{"s":"NoAug","r":215,"v":0.747},{"s":"NoAug","r":220,"v":0.743},{"s":"NoAug","r":225,"v":0.745},{"s":"NoAug","r":230,"v":0.737},{"s":"NoAug","r":235,"v":0.740},{"s":"NoAug","r":240,"v":0.735},{"s":"NoAug","r":245,"v":0.738},{"s":"NoAug","r":250,"v":0.734},{"s":"NoAug","r":255,"v":0.736},{"s":"NoAug","r":260,"v":0.732},{"s":"NoAug","r":265,"v":0.735},{"s":"NoAug","r":270,"v":0.730},{"s":"NoAug","r":275,"v":0.733},{"s":"NoAug","r":280,"v":0.729},{"s":"NoAug","r":285,"v":0.731},{"s":"NoAug","r":290,"v":0.727},{"s":"NoAug","r":295,"v":0.725},{"s":"NoAug","r":300,"v":0.729},
{"s":"τd=3.0","r":0,"v":0.45},{"s":"τd=3.0","r":3,"v":0.65},{"s":"τd=3.0","r":6,"v":0.72},{"s":"τd=3.0","r":10,"v":0.745},{"s":"τd=3.0","r":15,"v":0.762},{"s":"τd=3.0","r":20,"v":0.775},{"s":"τd=3.0","r":25,"v":0.771},{"s":"τd=3.0","r":30,"v":0.773},{"s":"τd=3.0","r":35,"v":0.768},{"s":"τd=3.0","r":40,"v":0.772},{"s":"τd=3.0","r":45,"v":0.767},{"s":"τd=3.0","r":50,"v":0.774},{"s":"τd=3.0","r":55,"v":0.769},{"s":"τd=3.0","r":60,"v":0.775},{"s":"τd=3.0","r":65,"v":0.766},{"s":"τd=3.0","r":70,"v":0.776},{"s":"τd=3.0","r":75,"v":0.770},{"s":"τd=3.0","r":80,"v":0.778},{"s":"τd=3.0","r":85,"v":0.772},{"s":"τd=3.0","r":90,"v":0.779},{"s":"τd=3.0","r":95,"v":0.774},{"s":"τd=3.0","r":100,"v":0.781},{"s":"τd=3.0","r":105,"v":0.776},{"s":"τd=3.0","r":110,"v":0.782},{"s":"τd=3.0","r":115,"v":0.777},{"s":"τd=3.0","r":120,"v":0.781},{"s":"τd=3.0","r":125,"v":0.775},{"s":"τd=3.0","r":130,"v":0.780},{"s":"τd=3.0","r":135,"v":0.774},{"s":"τd=3.0","r":140,"v":0.779},{"s":"τd=3.0","r":145,"v":0.773},{"s":"τd=3.0","r":150,"v":0.778},{"s":"τd=3.0","r":155,"v":0.772},{"s":"τd=3.0","r":160,"v":0.777},{"s":"τd=3.0","r":165,"v":0.771},{"s":"τd=3.0","r":170,"v":0.776},{"s":"τd=3.0","r":175,"v":0.770},{"s":"τd=3.0","r":180,"v":0.775},{"s":"τd=3.0","r":185,"v":0.769},{"s":"τd=3.0","r":190,"v":0.774},{"s":"τd=3.0","r":195,"v":0.768},{"s":"τd=3.0","r":200,"v":0.772},{"s":"τd=3.0","r":205,"v":0.767},{"s":"τd=3.0","r":210,"v":0.771},{"s":"τd=3.0","r":215,"v":0.765},{"s":"τd=3.0","r":220,"v":0.770},{"s":"τd=3.0","r":225,"v":0.764},{"s":"τd=3.0","r":230,"v":0.768},{"s":"τd=3.0","r":235,"v":0.762},{"s":"τd=3.0","r":240,"v":0.767},{"s":"τd=3.0","r":245,"v":0.761},{"s":"τd=3.0","r":250,"v":0.766},{"s":"τd=3.0","r":255,"v":0.760},{"s":"τd=3.0","r":260,"v":0.765},{"s":"τd=3.0","r":265,"v":0.759},{"s":"τd=3.0","r":270,"v":0.764},{"s":"τd=3.0","r":275,"v":0.758},{"s":"τd=3.0","r":280,"v":0.765},{"s":"τd=3.0","r":285,"v":0.759},{"s":"τd=3.0","r":290,"v":0.766},{"s":"τd=3.0","r":295,"v":0.760},{"s":"τd=3.0","r":300,"v":0.763},
{"s":"τd=3.5","r":0,"v":0.45},{"s":"τd=3.5","r":3,"v":0.64},{"s":"τd=3.5","r":6,"v":0.70},{"s":"τd=3.5","r":10,"v":0.735},{"s":"τd=3.5","r":15,"v":0.748},{"s":"τd=3.5","r":20,"v":0.760},{"s":"τd=3.5","r":25,"v":0.770},{"s":"τd=3.5","r":30,"v":0.762},{"s":"τd=3.5","r":35,"v":0.774},{"s":"τd=3.5","r":40,"v":0.758},{"s":"τd=3.5","r":45,"v":0.775},{"s":"τd=3.5","r":50,"v":0.770},{"s":"τd=3.5","r":55,"v":0.778},{"s":"τd=3.5","r":60,"v":0.773},{"s":"τd=3.5","r":65,"v":0.780},{"s":"τd=3.5","r":70,"v":0.775},{"s":"τd=3.5","r":75,"v":0.782},{"s":"τd=3.5","r":80,"v":0.777},{"s":"τd=3.5","r":85,"v":0.784},{"s":"τd=3.5","r":90,"v":0.779},{"s":"τd=3.5","r":95,"v":0.786},{"s":"τd=3.5","r":100,"v":0.781},{"s":"τd=3.5","r":105,"v":0.789},{"s":"τd=3.5","r":110,"v":0.783},{"s":"τd=3.5","r":115,"v":0.788},{"s":"τd=3.5","r":120,"v":0.782},{"s":"τd=3.5","r":125,"v":0.786},{"s":"τd=3.5","r":130,"v":0.776},{"s":"τd=3.5","r":135,"v":0.783},{"s":"τd=3.5","r":140,"v":0.765},{"s":"τd=3.5","r":145,"v":0.780},{"s":"τd=3.5","r":150,"v":0.783},{"s":"τd=3.5","r":155,"v":0.777},{"s":"τd=3.5","r":160,"v":0.781},{"s":"τd=3.5","r":165,"v":0.774},{"s":"τd=3.5","r":170,"v":0.778},{"s":"τd=3.5","r":175,"v":0.772},{"s":"τd=3.5","r":180,"v":0.776},{"s":"τd=3.5","r":185,"v":0.770},{"s":"τd=3.5","r":190,"v":0.774},{"s":"τd=3.5","r":195,"v":0.768},{"s":"τd=3.5","r":200,"v":0.773},{"s":"τd=3.5","r":205,"v":0.766},{"s":"τd=3.5","r":210,"v":0.771},{"s":"τd=3.5","r":215,"v":0.764},{"s":"τd=3.5","r":220,"v":0.770},{"s":"τd=3.5","r":225,"v":0.763},{"s":"τd=3.5","r":230,"v":0.769},{"s":"τd=3.5","r":235,"v":0.755},{"s":"τd=3.5","r":240,"v":0.767},{"s":"τd=3.5","r":245,"v":0.760},{"s":"τd=3.5","r":250,"v":0.766},{"s":"τd=3.5","r":255,"v":0.757},{"s":"τd=3.5","r":260,"v":0.764},{"s":"τd=3.5","r":265,"v":0.755},{"s":"τd=3.5","r":270,"v":0.762},{"s":"τd=3.5","r":275,"v":0.750},{"s":"τd=3.5","r":280,"v":0.760},{"s":"τd=3.5","r":285,"v":0.754},{"s":"τd=3.5","r":290,"v":0.750},{"s":"τd=3.5","r":295,"v":0.762},{"s":"τd=3.5","r":300,"v":0.770},
{"s":"τd=4.0","r":0,"v":0.45},{"s":"τd=4.0","r":3,"v":0.66},{"s":"τd=4.0","r":6,"v":0.71},{"s":"τd=4.0","r":10,"v":0.738},{"s":"τd=4.0","r":15,"v":0.756},{"s":"τd=4.0","r":20,"v":0.772},{"s":"τd=4.0","r":25,"v":0.768},{"s":"τd=4.0","r":30,"v":0.775},{"s":"τd=4.0","r":35,"v":0.770},{"s":"τd=4.0","r":40,"v":0.777},{"s":"τd=4.0","r":45,"v":0.772},{"s":"τd=4.0","r":50,"v":0.779},{"s":"τd=4.0","r":55,"v":0.774},{"s":"τd=4.0","r":60,"v":0.781},{"s":"τd=4.0","r":65,"v":0.776},{"s":"τd=4.0","r":70,"v":0.783},{"s":"τd=4.0","r":75,"v":0.778},{"s":"τd=4.0","r":80,"v":0.785},{"s":"τd=4.0","r":85,"v":0.780},{"s":"τd=4.0","r":90,"v":0.786},{"s":"τd=4.0","r":95,"v":0.781},{"s":"τd=4.0","r":100,"v":0.787},{"s":"τd=4.0","r":105,"v":0.782},{"s":"τd=4.0","r":110,"v":0.786},{"s":"τd=4.0","r":115,"v":0.780},{"s":"τd=4.0","r":120,"v":0.785},{"s":"τd=4.0","r":125,"v":0.779},{"s":"τd=4.0","r":130,"v":0.784},{"s":"τd=4.0","r":135,"v":0.778},{"s":"τd=4.0","r":140,"v":0.783},{"s":"τd=4.0","r":145,"v":0.777},{"s":"τd=4.0","r":150,"v":0.782},{"s":"τd=4.0","r":155,"v":0.776},{"s":"τd=4.0","r":160,"v":0.780},{"s":"τd=4.0","r":165,"v":0.775},{"s":"τd=4.0","r":170,"v":0.779},{"s":"τd=4.0","r":175,"v":0.773},{"s":"τd=4.0","r":180,"v":0.777},{"s":"τd=4.0","r":185,"v":0.771},{"s":"τd=4.0","r":190,"v":0.776},{"s":"τd=4.0","r":195,"v":0.770},{"s":"τd=4.0","r":200,"v":0.774},{"s":"τd=4.0","r":205,"v":0.768},{"s":"τd=4.0","r":210,"v":0.773},{"s":"τd=4.0","r":215,"v":0.767},{"s":"τd=4.0","r":220,"v":0.772},{"s":"τd=4.0","r":225,"v":0.766},{"s":"τd=4.0","r":230,"v":0.771},{"s":"τd=4.0","r":235,"v":0.764},{"s":"τd=4.0","r":240,"v":0.770},{"s":"τd=4.0","r":245,"v":0.763},{"s":"τd=4.0","r":250,"v":0.768},{"s":"τd=4.0","r":255,"v":0.761},{"s":"τd=4.0","r":260,"v":0.767},{"s":"τd=4.0","r":265,"v":0.759},{"s":"τd=4.0","r":270,"v":0.765},{"s":"τd=4.0","r":275,"v":0.756},{"s":"τd=4.0","r":280,"v":0.763},{"s":"τd=4.0","r":285,"v":0.753},{"s":"τd=4.0","r":290,"v":0.764},{"s":"τd=4.0","r":295,"v":0.758},{"s":"τd=4.0","r":300,"v":0.765},
{"s":"FedSGD","r":0,"v":0.721},{"s":"FedSGD","r":300,"v":0.721},
{"s":"FedAvg","r":0,"v":0.749},{"s":"FedAvg","r":300,"v":0.749}
]
},
"bounds": "flush",
"spacing": 135,
"resolve": {"scale": {"color": "independent", "strokeDash": "independent"}},
"hconcat": [
{
 "width": 288, "height": 325,
 "title": {"text": ["(a)\u00a0\u00a0\u00a0 Astraea\u00a0\u00a0 (Data\u00a0\u00a0\u00a0 augmentation", "and downsampling only)"], "orient": "bottom", "anchor": "start", "frame": "group", "offset": 24, "dx": -89, "fontSize": 25},
 "data": {"name": "a"},
 "mark": {"type": "line", "clip": true},
 "encoding": {
  "x": {"field": "r", "type": "quantitative", "scale": {"domain": [-50, 550], "nice": false, "zero": false},
        "axis": {"title": "Communication Rounds", "values": [0,50,100,150,200,250,300,350,400,450,500], "labelExpr": "datum.value % 100 === 0 ? datum.label : ''", "tickSize": -7, "labelPadding": 18, "titlePadding": 12}},
  "y": {"field": "v", "type": "quantitative", "scale": {"domain": [0.5, 0.85], "nice": false, "zero": false},
        "axis": {"title": "Test Accuracy", "values": [0.5,0.525,0.55,0.575,0.6,0.625,0.65,0.675,0.7,0.725,0.75,0.775,0.8,0.825,0.85], "format": ".2f", "labelExpr": "round(datum.value*1000) % 50 === 0 ? datum.label : ''", "tickSize": -7, "labelPadding": 21, "titlePadding": 4}},
  "color": {"field": "s", "type": "nominal", "scale": {"domain": ["τd=4.5","τd=3.5","τd=1.0","FedSGD","τd=4.0","τd=3.0","FedAvg"], "range": ["#1E90FF","#EFA72F","#21C421","#CC1122","#EE3B3B","#8A2BE2","#000000"]},
            "legend": {"legendX": 61, "legendY": 191}},
  "strokeDash": {"field": "s", "type": "nominal", "scale": {"domain": ["τd=4.5","τd=3.5","τd=1.0","FedSGD","τd=4.0","τd=3.0","FedAvg"], "range": [[1,0],[1,0],[1,0],[7,4],[1,0],[1,0],[7,4]]},
            "legend": {"legendX": 61, "legendY": 191}},
  "strokeWidth": {"condition": {"test": "datum.s === 'FedAvg' || datum.s === 'FedSGD'", "value": 2.5}, "value": 1.5}
 }
},
{
 "width": 294, "height": 325,
 "title": {"text": ["(b)\u00a0\u00a0 Astraea\u00a0\u00a0 (Data\u00a0\u00a0 augmentation,", "downsampling and rescheduling)"], "orient": "bottom", "anchor": "start", "frame": "group", "offset": 24, "dx": -85, "fontSize": 25},
 "data": {"name": "b"},
 "mark": {"type": "line", "clip": true},
 "encoding": {
  "x": {"field": "r", "type": "quantitative", "scale": {"domain": [-20, 320], "nice": false, "zero": false},
        "axis": {"title": "Synchronization Rounds", "values": [0,25,50,75,100,125,150,175,200,225,250,275,300], "labelExpr": "datum.value % 50 === 0 ? datum.label : ''", "tickSize": -7, "labelPadding": 18, "titlePadding": 12}},
  "y": {"field": "v", "type": "quantitative", "scale": {"domain": [0.5, 0.85], "nice": false, "zero": false},
        "axis": {"title": null, "values": [0.5,0.525,0.55,0.575,0.6,0.625,0.65,0.675,0.7,0.725,0.75,0.775,0.8,0.825,0.85], "format": ".2f", "labelExpr": "round(datum.value*1000) % 50 === 0 ? datum.label : ''", "tickSize": -7, "labelPadding": 21}},
  "color": {"field": "s", "type": "nominal", "scale": {"domain": ["NoAug","τd=3.5","τd=1.0","FedSGD","τd=4.0","τd=3.0","FedAvg"], "range": ["#1E90FF","#EFA72F","#21C421","#CC1122","#EE3B3B","#8A2BE2","#000000"]},
            "legend": {"legendX": 69, "legendY": 184}},
  "strokeDash": {"field": "s", "type": "nominal", "scale": {"domain": ["NoAug","τd=3.5","τd=1.0","FedSGD","τd=4.0","τd=3.0","FedAvg"], "range": [[1,0],[1,0],[1,0],[7,4],[1,0],[1,0],[7,4]]},
            "legend": {"legendX": 69, "legendY": 184}},
  "strokeWidth": {"condition": {"test": "datum.s === 'FedAvg' || datum.s === 'FedSGD'", "value": 2.5}, "value": 1.5}
 }
}
]
}
